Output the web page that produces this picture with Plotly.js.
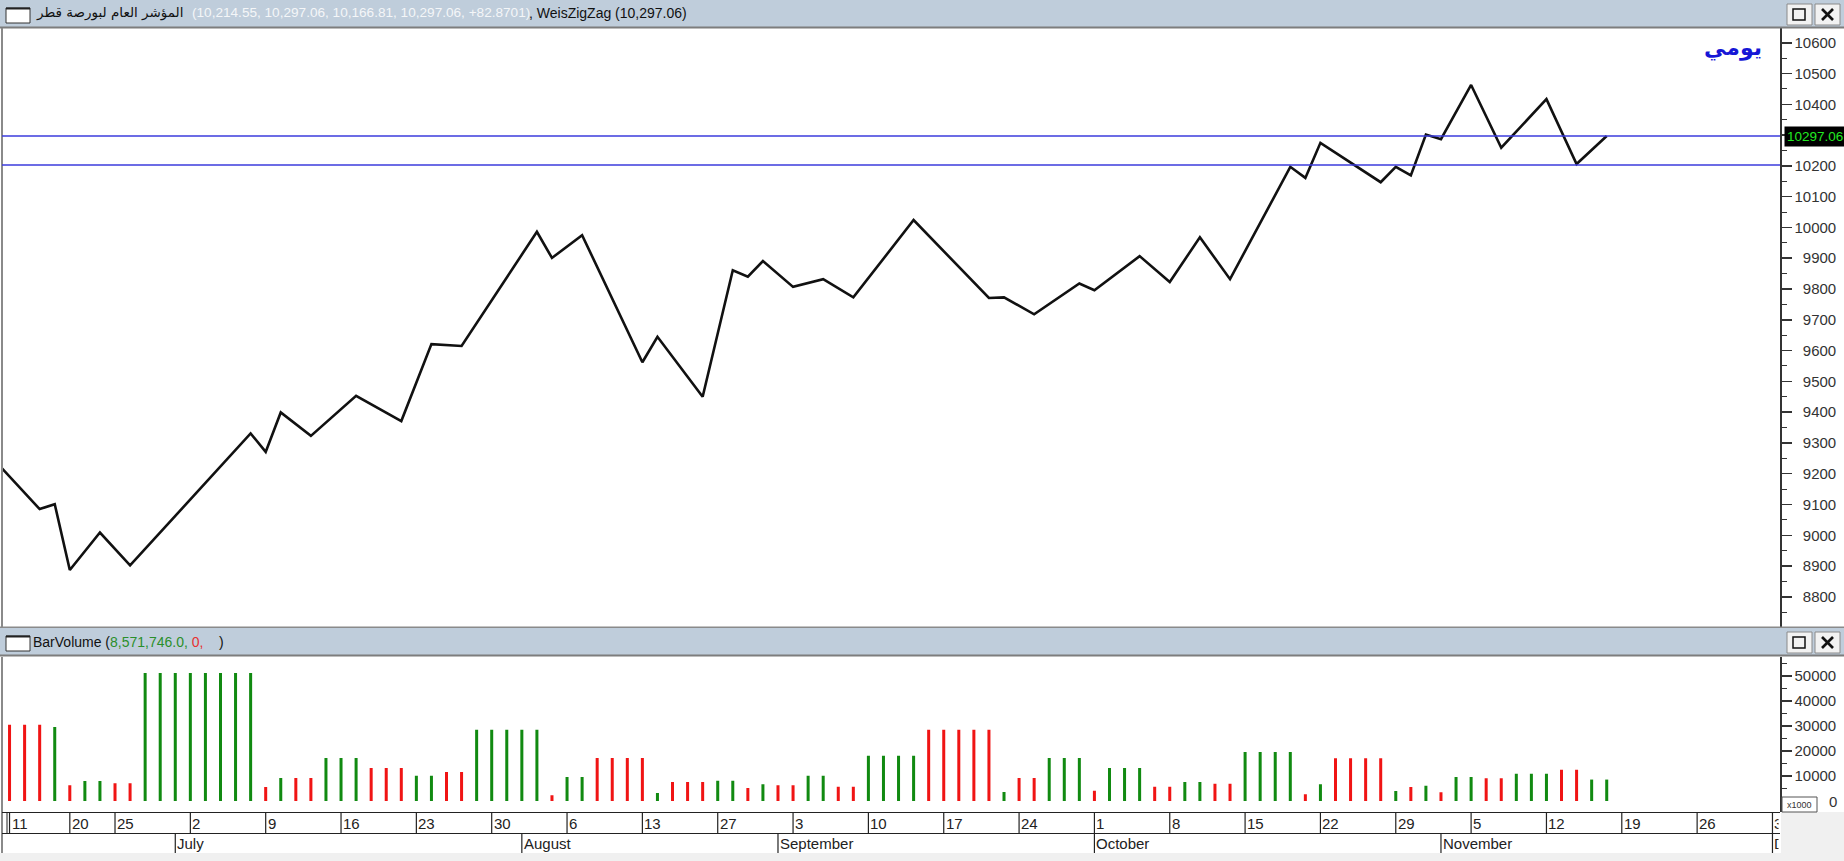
<!DOCTYPE html>
<html><head><meta charset="utf-8">
<script src="https://cdn.plot.ly/plotly-3.0.1.min.js"></script>
<style>html,body{margin:0;padding:0;background:#fff;overflow:hidden}#chart{width:1844px;height:861px}</style>
</head><body><div id="chart"></div>
<script>
// ---- data (bar index = trading day) ----
const pivotIdx = [-1, 2, 3, 4, 6, 8, 16, 17, 18, 20, 23, 26, 28, 30, 35, 36, 38, 42, 43, 46, 48, 49, 50, 52, 54, 56, 60, 65, 66, 68, 71, 72, 75, 77, 79, 81, 85, 86, 87, 91, 92, 93, 94, 95, 97, 99, 102, 104, 106];
const pivotVal = [9244, 9085, 9101, 8887, 9009, 8902, 9331, 9271, 9399, 9323, 9453, 9371, 9621, 9615, 9986, 9901, 9975, 9562, 9645, 9450, 9861, 9840, 9891, 9807, 9832, 9773, 10024, 9771, 9773, 9718, 9818, 9796, 9907, 9823, 9968, 9832, 10197, 10161, 10275, 10147, 10197, 10169, 10302, 10287, 10463, 10259, 10417, 10206, 10297.06];
const volume = [30500, 30500, 30500, 29600, 6300, 8000, 8000, 7100, 7100,
  51200, 51200, 51200, 51200, 51200, 51200, 51200, 51200, 5600, 9200, 9200, 9200,
  17200, 17200, 17200, 13200, 13200, 13200, 10100, 10100, 11600, 11600,
  28500, 28500, 28500, 28500, 28500, 2300, 9600, 9600, 17200, 17200, 17200, 17200,
  3200, 7600, 7600, 7600, 8100, 8100, 5200, 6700, 6300, 6300, 10100, 10100, 5700, 5700,
  18100, 18100, 18100, 18100, 28500, 28500, 28500, 28500, 28500, 3600, 9200, 9200,
  17200, 17200, 17200, 4100, 13200, 13200, 13200, 5700, 5700, 7600, 7600, 6900, 6900,
  19600, 19600, 19600, 19600, 2700, 6700, 17100, 17100, 17100, 17100, 4000, 5600, 6100, 3500,
  9600, 9600, 9100, 9100, 10900, 10900, 10900, 12500, 12500, 8572, 8572];
const dayTickIdx  = [0, 4, 7, 12, 17, 22, 27, 32, 37, 42, 47, 52, 57, 62, 67, 72, 77, 82, 87, 92, 97, 102, 107, 112, 117];
const dayTickText = ['11','20','25','2','9','16','23','30','6','13','27','3','10','17','24','1','8','15','22','29','5','12','19','26','3'];
const monthIdx  = [11, 34, 51, 72, 95, 117];
const monthText = ['July','August','September','October','November','December'];
const hLevels = [10297.06, 10203];
const lastClose = 10297.06;
const priceTitle = 'المؤشر العام لبورصة قطر';
const ohlcText = '(10,214.55, 10,297.06, 10,166.81, 10,297.06, +82.8701)';
const zigText = ', WeisZigZag (10,297.06)';
const volVal = '8,571,746.0,';
const periodText = 'يومي';

// ---- geometry helpers ----
const W = 1844, H = 861;
const X = p => p / W, Y = p => 1 - p / H;
const plotL = 2, plotR = 1780;
const xMin = -0.5, xMax = 117.5;
const pxPerBar = (plotR - plotL) / (xMax - xMin);
const FONT = 'Liberation Sans, Arial, sans-serif';

// bar colour from the wave that contains it
const barIdx = volume.map((v, i) => i);
const barColor = barIdx.map(i => {
  for (let k = 0; k < pivotIdx.length - 1; k++) {
    if (i > pivotIdx[k] && i <= pivotIdx[k + 1]) return pivotVal[k + 1] > pivotVal[k] ? '#118a11' : '#f01414';
  }
  return '#118a11';
});

const traces = [
  {x: pivotIdx, y: pivotVal, type: 'scatter', mode: 'lines', line: {color: '#111', width: 2.6}, xaxis: 'x', yaxis: 'y', hoverinfo: 'skip'},
  {x: barIdx, y: volume, type: 'bar', width: 0.2, marker: {color: barColor, line: {width: 0}}, xaxis: 'x', yaxis: 'y2', hoverinfo: 'skip'}
];

const pad = v => { const s = String(v); return s.length < 5 ? '\u2007'.repeat(5 - s.length) + s : s; };
const mainTicks = []; for (let v = 8800; v <= 10600; v += 100) mainTicks.push(v);
const volTicks = []; for (let v = 0; v <= 50000; v += 10000) volTicks.push(v);
// the last-price box hides the label it sits on; the x1000 box sits beside the 0 label
const mainTickText = mainTicks.map(v => Math.abs(v - lastClose) < 40 ? '' : pad(v));
const volTickText = volTicks.map(v => v === 0 ? '' : pad(v));

const shapes = [];
const ann = [];
const rect = (x0, y0, x1, y1, fill, lc, lw) => shapes.push({type: 'rect', xref: 'paper', yref: 'paper', x0: X(x0), x1: X(x1), y0: Y(y1), y1: Y(y0), fillcolor: fill, line: {color: lc || fill, width: lw === undefined ? 0 : lw}, layer: 'above'});
const hline = (x0, x1, y, c, w) => shapes.push({type: 'line', xref: 'paper', yref: 'paper', x0: X(x0), x1: X(x1), y0: Y(y), y1: Y(y), line: {color: c, width: w}});
const vline = (x, y0, y1, c, w) => shapes.push({type: 'line', xref: 'paper', yref: 'paper', x0: X(x), x1: X(x), y0: Y(y0), y1: Y(y1), line: {color: c, width: w}});

// bottom / right grey areas
rect(0, 853, W, H, '#f0f0f0');
rect(plotR + 1, 812, W, 853, '#f0f0f0');

// panel headers
function header(top) {
  rect(0, top, W, top + 27, '#bfcddb');
  hline(0, W, top + 27.5, '#7d7d7d', 2);
  rect(6, top + 8, 30, top + 23, '#ffffff', '#333', 1);
  hline(6, 30, top + 8.5, '#222', 2);
  rect(1787, top + 4, 1812, top + 25, '#f2f2f2', '#8a8a8a', 1);
  rect(1793, top + 9, 1805, top + 20, 'rgba(0,0,0,0)', '#111', 1.5);
  rect(1815, top + 4, 1840, top + 25, '#f2f2f2', '#8a8a8a', 1);
  shapes.push({type: 'line', xref: 'paper', yref: 'paper', x0: X(1822), x1: X(1833), y0: Y(top + 9), y1: Y(top + 20), line: {color: '#111', width: 2.6}});
  shapes.push({type: 'line', xref: 'paper', yref: 'paper', x0: X(1833), x1: X(1822), y0: Y(top + 9), y1: Y(top + 20), line: {color: '#111', width: 2.6}});
}
header(0);
hline(0, W, 627.5, '#8a8a8a', 2);
header(628);

// left borders
vline(2, 28, 627, '#8a8a8a', 2);
vline(2, 657, 853, '#8a8a8a', 2);

// x axis rows
hline(plotL, plotR, 812.5, '#222', 1.2);
hline(plotL, plotR, 833.5, '#222', 1.2);
vline(7, 812, 833, '#222', 1);
dayTickIdx.forEach((d, i) => {
  shapes.push({type: 'line', xref: 'x', yref: 'paper', x0: d, x1: d, y0: Y(812), y1: Y(833), line: {color: '#222', width: 1.2}});
  const xp = plotL + (d - xMin) * pxPerBar;
  const a = {xref: 'x', yref: 'paper', x: d, y: Y(823), xanchor: 'left', yanchor: 'middle', xshift: 1, text: dayTickText[i], showarrow: false, align: 'left', borderpad: 0, font: {family: FONT, size: 15, color: '#222'}};
  if (xp + 22 > plotR) a.width = Math.max(1, plotR - xp - 3);
  ann.push(a);
});
monthIdx.forEach((d, i) => {
  shapes.push({type: 'line', xref: 'x', yref: 'paper', x0: d, x1: d, y0: Y(833), y1: Y(853), line: {color: '#222', width: 1.2}});
  const xp = plotL + (d - xMin) * pxPerBar;
  const a = {xref: 'x', yref: 'paper', x: d, y: Y(843.5), xanchor: 'left', yanchor: 'middle', xshift: 1, text: monthText[i], showarrow: false, align: 'left', borderpad: 0, font: {family: FONT, size: 15, color: '#222'}};
  if (xp + 80 > plotR) a.width = Math.max(1, plotR - xp - 3);
  ann.push(a);
});

// horizontal levels
hLevels.forEach(v => shapes.push({type: 'line', xref: 'paper', yref: 'y', x0: X(plotL), x1: X(plotR), y0: v, y1: v, line: {color: '#3b3bdc', width: 1.5}}));

// x1000 box and the volume 0 label beside it
rect(1782, 797, 1817, 812, '#ffffff', '#555', 1);
ann.push({xref: 'paper', yref: 'paper', x: X(1799.5), y: Y(804.5), xanchor: 'center', yanchor: 'middle', text: 'x1000', showarrow: false, font: {family: FONT, size: 9, color: '#333'}});
ann.push({xref: 'paper', yref: 'y2', x: X(1838), y: volTicks[0], xanchor: 'right', yanchor: 'middle', text: String(volTicks[0]), showarrow: false, borderpad: 0, font: {family: FONT, size: 15, color: '#333'}});

// header texts
ann.push({xref: 'paper', yref: 'paper', x: X(34), y: Y(13), xanchor: 'left', yanchor: 'middle', text: priceTitle, showarrow: false, font: {family: 'DejaVu Sans, sans-serif', size: 13.5, color: '#111'}});
ann.push({xref: 'paper', yref: 'paper', x: X(190), y: Y(13), xanchor: 'left', yanchor: 'middle', text: ohlcText, showarrow: false, font: {family: FONT, size: 13.6, color: '#f4f6f8'}});
ann.push({xref: 'paper', yref: 'paper', x: X(527), y: Y(13), xanchor: 'left', yanchor: 'middle', text: zigText, showarrow: false, font: {family: FONT, size: 14, color: '#111'}});
ann.push({xref: 'paper', yref: 'paper', x: X(31), y: Y(642), xanchor: 'left', yanchor: 'middle', showarrow: false, font: {family: FONT, size: 14, color: '#111'},
  text: 'BarVolume (<span style="color:#2a8f2a">' + volVal + '</span> <span style="color:#e83030">0,</span>\u00a0\u00a0\u00a0\u00a0)'});

// period label
ann.push({xref: 'paper', yref: 'paper', x: X(1764), y: Y(48), xanchor: 'right', yanchor: 'middle', text: '<b>' + periodText + '</b>', showarrow: false, font: {family: 'DejaVu Sans, sans-serif', size: 22, color: '#1616d6'}});

// last price box
ann.push({xref: 'paper', yref: 'y', x: X(1784), y: lastClose, xanchor: 'left', yanchor: 'middle', text: lastClose.toFixed(2), showarrow: false, bgcolor: '#000', borderpad: 2, font: {family: FONT, size: 13.5, color: '#22e822'}});

const yCommon = {side: 'right', showline: true, linecolor: '#333', linewidth: 1.5, ticks: 'outside', ticklen: 10, tickwidth: 1.5, tickcolor: '#333',
  tickmode: 'array', showgrid: false, zeroline: false, fixedrange: true, tickfont: {family: FONT, size: 15, color: '#333'}};

const layout = {
  width: W, height: H, margin: {l: 0, r: 0, t: 0, b: 0}, paper_bgcolor: '#fff', plot_bgcolor: '#fff', showlegend: false, hovermode: false,
  xaxis: {domain: [X(plotL), X(plotR)], range: [xMin, xMax], anchor: 'y2', showticklabels: false, ticks: '', showgrid: false, zeroline: false, showline: false, fixedrange: true},
  yaxis: Object.assign({}, yCommon, {domain: [Y(627), Y(28)], range: [8702, 10648], anchor: 'x', tickvals: mainTicks, ticktext: mainTickText,
    minor: {tickmode: 'linear', tick0: 8750, dtick: 100, ticks: 'outside', ticklen: 5, tickwidth: 1, tickcolor: '#333', showgrid: false}}),
  yaxis2: Object.assign({}, yCommon, {domain: [Y(812), Y(657)], range: [-4400, 57600], anchor: 'x', tickvals: volTicks, ticktext: volTickText,
    minor: {tickmode: 'linear', tick0: 5000, dtick: 10000, ticks: 'outside', ticklen: 5, tickwidth: 1, tickcolor: '#333', showgrid: false}}),
  shapes: shapes, annotations: ann
};
Plotly.newPlot('chart', traces, layout, {staticPlot: true, displayModeBar: false});
</script></body></html>
